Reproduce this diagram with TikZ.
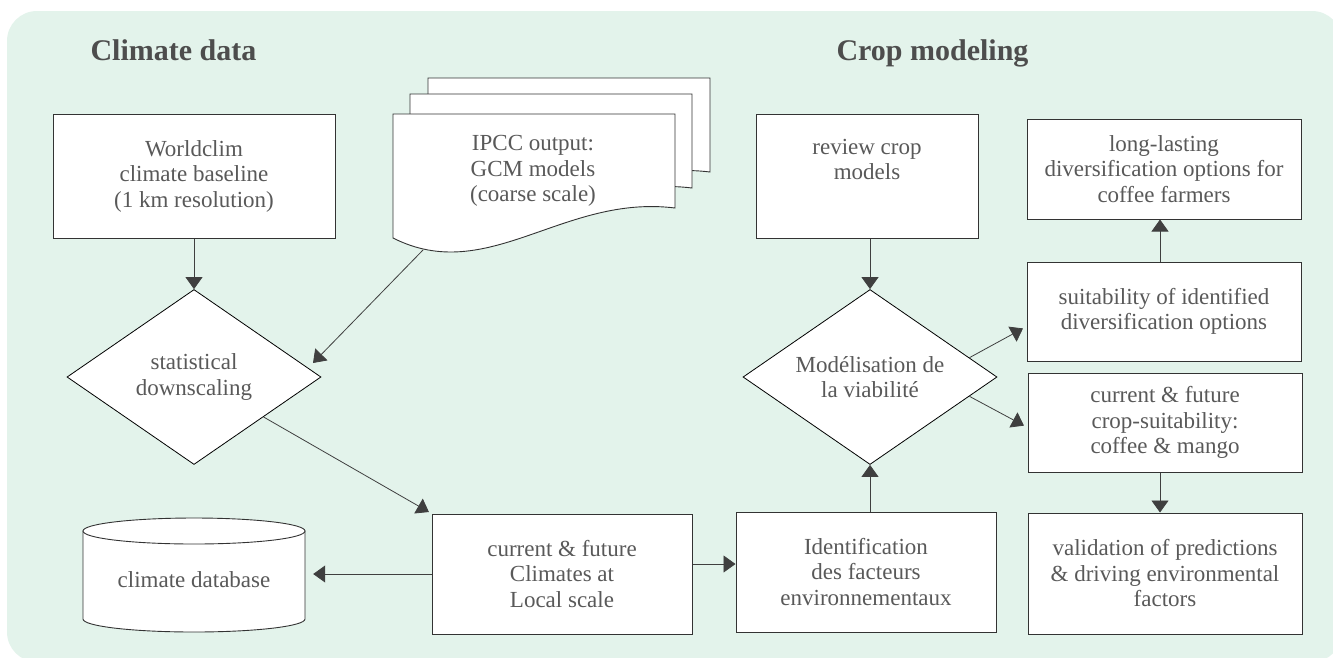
\documentclass[tikz,border=0pt]{standalone}
\usepackage{fontspec}
\setmainfont{Liberation Serif}
\usetikzlibrary{shapes.geometric,arrows.meta,calc}
\definecolor{bgc}{HTML}{E3F3EB}
\definecolor{txt}{HTML}{595959}
\definecolor{ttl}{HTML}{4D4D4D}
\definecolor{ln}{HTML}{3F3F3F}
\definecolor{bd}{HTML}{333333}
\begin{document}
\begin{tikzpicture}[x=1pt,y=-1pt,
 box/.style={draw=bd,line width=1pt,fill=white,rectangle,inner sep=0pt,align=center,text=txt,font=\fontsize{23}{25.5}\selectfont},
 dia/.style={draw=black,line width=0.8pt,fill=white,diamond,aspect=1.45,inner sep=0pt,align=center,text=txt,font=\fontsize{23}{25.5}\selectfont,minimum width=254pt,minimum height=175pt},
 arr/.style={draw=ln,line width=0.8pt,-{Triangle[length=12pt,width=17pt]}},
 ttlstyle/.style={anchor=base west,text=ttl,font=\fontsize{30}{32}\selectfont\bfseries},
 page/.style={draw=bd,line width=0.9pt,fill=white},
 plain/.style={align=center,text=txt,font=\fontsize{23}{25.5}\selectfont,inner sep=0pt}
]
\useasboundingbox (0,0) rectangle (1333,657);
\clip (0,0) rectangle (1333,657);
\fill[bgc,rounded corners=30pt] (7,11) rectangle (1342,662);

% titles
\node[ttlstyle] (t1) at (87,60) {Climate data};
\node[ttlstyle] (t2) at (833,60) {Crop modeling};

% climate side
\node[box,minimum width=282pt,minimum height=124pt] (world) at (194,176) {Worldclim\\climate baseline\\(1 km resolution)};

% IPCC document stack
\foreach \sx/\sy in {428/78,410/94,393/114}{
  \begin{scope}[shift={(\sx,\sy)}]
    \draw[page] (0,0) -- (282,0) -- (282,94) .. controls (170,80) and (95,172) .. (0,124) -- cycle;
  \end{scope}
}
\node[plain] (ipcc) at (533,171) {IPCC output:\\GCM models\\(coarse scale)};
\coordinate (ipccout) at (423,250);
\coordinate (statin) at (313,363);

\node[dia] (stat) at (194,377) {statistical\\downscaling};

% cylinder
\draw[draw=bd,line width=0.9pt,fill=white] (83,531) -- (83,619) arc[start angle=180,end angle=360,x radius=111pt,y radius=13pt] -- (305,531) -- cycle;
\draw[draw=bd,line width=0.9pt,fill=white] (194,531) ellipse [x radius=111pt,y radius=13pt];
\node[plain,minimum width=222pt] (db) at (194,580) {climate database};

\node[box,minimum width=260pt,minimum height=120pt] (clim) at (562,574) {current \& future\\Climates at\\Local scale};
\node[box,minimum width=260pt,minimum height=120pt] (ident) at (866,572) {Identification\\des facteurs\\environnementaux};

% crop side
\node[box,minimum width=222pt,minimum height=124pt] (review) at (867,176) {review crop\\models\\\strut};
\node[dia] (mod) at (870,377) {Modélisation de\\la viabilité};
\node[box,minimum width=274pt,minimum height=100pt] (long) at (1164,169) {long-lasting\\diversification options for\\coffee farmers};
\node[box,minimum width=274pt,minimum height=99pt] (suit) at (1164,311.5) {suitability of identified\\diversification options};
\node[box,minimum width=274pt,minimum height=99pt] (crop) at (1165,422.5) {current \& future\\crop-suitability:\\coffee \& mango};
\node[box,minimum width=274pt,minimum height=121pt] (valid) at (1165,573.5) {validation of predictions\\\& driving environmental\\factors};

% connectors
\draw[arr] (world.south) -- (stat.north);
\draw[arr] (ipccout) -- (statin);
\draw[arr,shorten >=3pt] (stat) -- (clim.north west);
\draw[arr,shorten >=8pt] (clim.west) -- (clim.west -| db.east);
\draw[arr] ([yshift=10pt]clim.east) -- ([yshift=10pt]clim.east -| ident.west);
\draw[arr] (ident.north -| mod.south) -- (mod.south);
\draw[arr] (review.south -| mod.north) -- (mod.north);
\draw[arr,shorten >=4pt] (mod.11) -- ([yshift=-15pt]suit.west);
\draw[arr,shorten >=4pt] (mod.-11) -- ([yshift=-5pt]crop.west);
\draw[arr] ([xshift=-4pt]suit.north) -- ([xshift=-4pt]long.south);
\draw[arr] ([xshift=-5pt]crop.south) -- ([xshift=-5pt]valid.north);
\end{tikzpicture}
\end{document}
